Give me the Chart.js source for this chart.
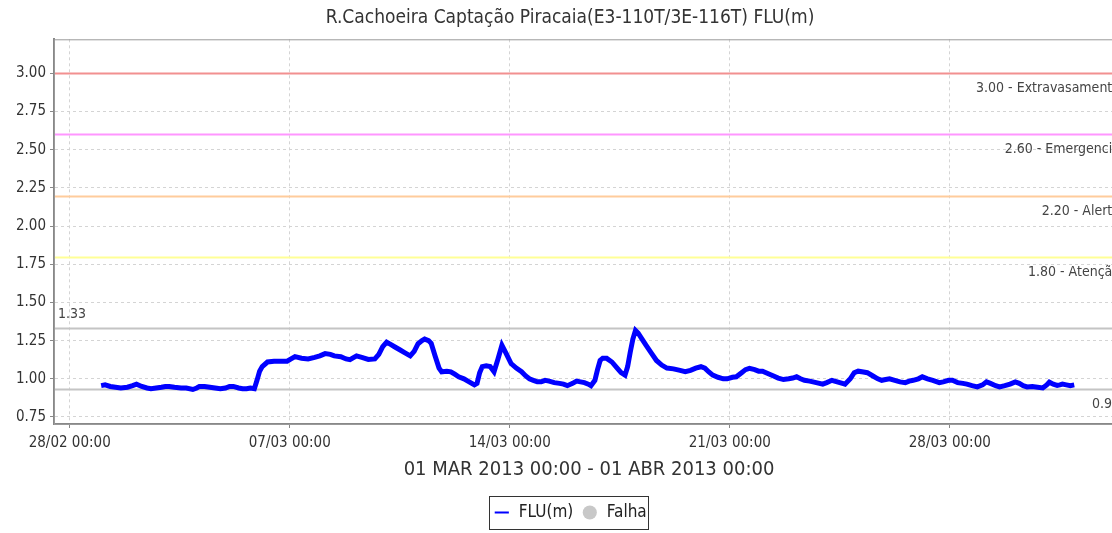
<!DOCTYPE html>
<html>
<head>
<meta charset="utf-8">
<script src="https://cdn.jsdelivr.net/npm/chart.js@4/dist/chart.umd.min.js"></script>
<style>
  html, body { margin: 0; padding: 0; background: #fff; overflow: hidden; }
  #wrap { width: 1140px; height: 533px; }
</style>
</head>
<body>
<div id="wrap"><canvas id="grafico" width="1140" height="533"></canvas></div>
<script>
// horas desde 28/02/2013 00:00
const horas = [24, 27, 31, 35, 39, 44, 48, 51, 55, 59, 62, 66, 70, 73, 76, 80, 85, 89, 94, 97,
  99, 103, 107, 111, 115, 119, 122, 125, 129, 132, 135, 138, 141, 143, 145, 147, 151, 156, 161, 166,
  169, 172, 177, 182, 187, 191, 195, 199, 202, 207, 211, 214, 217, 219, 223, 228, 233, 236, 239, 242,
  245, 248, 252, 256, 260, 263, 266, 269, 271, 274, 276, 279, 282, 284, 288, 291, 294, 297, 301, 305,
  309, 311, 313, 315, 318, 321, 324, 327, 330, 333, 337, 341, 345, 348, 351, 354, 357, 360, 363, 366,
  370, 374, 377, 380, 384, 387, 390, 393, 396, 398, 401, 403, 405, 407, 410, 414, 418, 421, 424, 426,
  428, 430, 432, 434, 437, 440, 444, 448, 452, 456, 461, 466, 470, 474, 478, 482, 485, 488, 491, 495,
  499, 502, 506, 509, 513, 516, 519, 523, 526, 529, 533, 537, 541, 545, 549, 552, 555, 558, 561, 565,
  570, 575, 578, 582, 586, 590, 592, 596, 599, 602, 606, 609, 613, 617, 620, 623, 626, 630, 634, 638,
  641, 644, 648, 651, 655, 659, 664, 667, 671, 674, 678, 682, 685, 689, 693, 697, 700, 703, 707, 710,
  714, 718, 722, 725, 728, 731, 735, 739, 743, 746, 748, 751, 754, 756, 758, 761, 764, 767];
const flu = [0.955, 0.96, 0.95, 0.945, 0.94, 0.945, 0.955, 0.965, 0.95, 0.94, 0.935, 0.94, 0.945, 0.95, 0.95, 0.945, 0.94, 0.94, 0.93, 0.94,
  0.95, 0.95, 0.945, 0.94, 0.935, 0.94, 0.95, 0.95, 0.94, 0.935, 0.935, 0.94, 0.935, 0.99, 1.05, 1.08, 1.11, 1.115, 1.115, 1.115,
  1.13, 1.145, 1.135, 1.13, 1.14, 1.15, 1.165, 1.16, 1.15, 1.145, 1.13, 1.125, 1.14, 1.15, 1.14, 1.127, 1.13, 1.16, 1.21, 1.24,
  1.225, 1.21, 1.19, 1.17, 1.15, 1.18, 1.23, 1.25, 1.26, 1.25, 1.232, 1.15, 1.07, 1.046, 1.05, 1.046, 1.03, 1.013, 1.0, 0.98,
  0.96, 0.97, 1.04, 1.08, 1.085, 1.08, 1.046, 1.13, 1.22, 1.17, 1.10, 1.07, 1.046, 1.02, 1.0, 0.99, 0.98, 0.98, 0.99, 0.985,
  0.975, 0.97, 0.965, 0.955, 0.97, 0.985, 0.98, 0.975, 0.965, 0.955, 0.99, 1.06, 1.12, 1.135, 1.134, 1.11, 1.07, 1.04, 1.024, 1.08,
  1.175, 1.26, 1.317, 1.30, 1.26, 1.22, 1.17, 1.12, 1.09, 1.07, 1.065, 1.055, 1.046, 1.055, 1.07, 1.079, 1.07, 1.045, 1.024, 1.01,
  1.0, 1.0, 1.01, 1.013, 1.04, 1.06, 1.068, 1.06, 1.05, 1.05, 1.035, 1.02, 1.005, 0.995, 1.0, 1.005, 1.013, 1.0, 0.99, 0.985,
  0.975, 0.965, 0.975, 0.99, 0.98, 0.97, 0.965, 1.0, 1.04, 1.05, 1.045, 1.04, 1.02, 1.0, 0.99, 0.995, 1.0, 0.99, 0.98, 0.975,
  0.985, 0.99, 1.0, 1.013, 1.0, 0.99, 0.975, 0.98, 0.99, 0.99, 0.975, 0.97, 0.965, 0.955, 0.947, 0.96, 0.98, 0.97, 0.955, 0.947,
  0.955, 0.965, 0.98, 0.97, 0.955, 0.947, 0.95, 0.945, 0.94, 0.96, 0.978, 0.965, 0.957, 0.96, 0.965, 0.96, 0.955, 0.96];

const yTicks = [0.75, 1.00, 1.25, 1.50, 1.75, 2.00, 2.25, 2.50, 2.75, 3.00];
const xTicks = [0, 168, 336, 504, 672];

// níveis de referência
const niveis = [3.00, 2.60, 2.20, 1.80];
const niveisTexto = ["3.00 - Extravasamento", "2.60 - Emergencia", "2.20 - Alerta", "1.80 - Atenção"];
const niveisCor = ["#f29090", "#ff96ff", "#ffcc9c", "#ffff96"];
const maxMin = [1.33, 0.93];

const fonte = "'DejaVu Sans Condensed', 'Liberation Sans Narrow', 'DejaVu Sans', sans-serif";
const inicio = new Date(2013, 1, 28, 0, 0);

function formataData(h) {
  const d = new Date(inicio.getTime() + h * 3600000);
  const p = (n) => String(n).padStart(2, "0");
  return p(d.getDate()) + "/" + p(d.getMonth() + 1) + " " + p(d.getHours()) + ":" + p(d.getMinutes());
}

const linhasRef = {
  id: "linhasRef",
  beforeDatasetsDraw(chart) {
    const ctx = chart.ctx;
    const area = chart.chartArea;
    const y = chart.scales.y;
    ctx.save();
    niveis.forEach((v, i) => {
      const py = Math.round(y.getPixelForValue(v)) + 0.5;
      ctx.strokeStyle = niveisCor[i];
      ctx.lineWidth = 2;
      ctx.beginPath();
      ctx.moveTo(area.left, py);
      ctx.lineTo(area.right, py);
      ctx.stroke();
      ctx.fillStyle = "#444";
      ctx.font = "14px " + fonte;
      ctx.textAlign = "right";
      ctx.textBaseline = "middle";
      ctx.fillText(niveisTexto[i], area.right - 4, py + 15);
    });
    maxMin.forEach((v, i) => {
      const py = Math.round(y.getPixelForValue(v)) + 0.5;
      ctx.strokeStyle = "#c4c4c4";
      ctx.lineWidth = 2;
      ctx.beginPath();
      ctx.moveTo(area.left, py);
      ctx.lineTo(area.right, py);
      ctx.stroke();
      ctx.fillStyle = "#444";
      ctx.font = "14px " + fonte;
      ctx.textBaseline = "middle";
      if (i === 0) {
        ctx.textAlign = "left";
        ctx.fillText(v.toFixed(2), area.left + 4, py - 14);
      } else {
        ctx.textAlign = "right";
        ctx.fillText(v.toFixed(2), area.right - 4, py + 15);
      }
    });
    ctx.restore();
  },
  afterDraw(chart) {
    const ctx = chart.ctx;
    const area = chart.chartArea;
    ctx.save();
    ctx.strokeStyle = "#999";
    ctx.lineWidth = 1;
    ctx.strokeRect(area.left + 0.5, area.top + 0.5, area.right - area.left, area.bottom - area.top);
    // caixa da legenda
    const boxes = chart.legend.legendHitBoxes;
    if (boxes && boxes.length) {
      let l = Infinity, r = -Infinity, t = Infinity, b = -Infinity;
      boxes.forEach((h) => {
        l = Math.min(l, h.left); r = Math.max(r, h.left + h.width);
        t = Math.min(t, h.top); b = Math.max(b, h.top + h.height);
      });
      ctx.strokeStyle = "#333";
      ctx.strokeRect(Math.round(l - 4) + 0.5, Math.round(t - 8) + 0.5, Math.round(r - l + 6), Math.round(b - t + 16));
    }
    ctx.restore();
  }
};

new Chart(document.getElementById("grafico"), {
  type: "line",
  data: {
    labels: horas,
    datasets: [
      {
        label: "FLU(m)",
        data: horas.map((h, i) => ({ x: h, y: flu[i] })),
        yAxisID: "y",
        borderColor: "#0000ff",
        backgroundColor: "#0000ff",
        borderWidth: 5,
        pointRadius: 0,
        tension: 0,
        pointStyle: "line"
      },
      {
        label: "Falha",
        data: [],
        yAxisID: "y",
        borderColor: "#c8c8c8",
        backgroundColor: "#c8c8c8",
        pointStyle: "circle",
        showLine: false
      }
    ]
  },
  options: {
    responsive: false,
    animation: false,
    layout: { padding: { left: 0, right: 0, top: 0, bottom: 2 } },
    plugins: {
      title: {
        display: true,
        text: "R.Cachoeira Captação Piracaia(E3-110T/3E-116T) FLU(m)",
        color: "#333",
        font: { family: fonte, size: 19, weight: "normal" },
        padding: { top: 7, bottom: 9.5 }
      },
      legend: {
        position: "bottom",
        labels: {
          color: "#222",
          font: { family: fonte, size: 17 },
          usePointStyle: true,
          boxHeight: 10,
          padding: 8,
          generateLabels(chart) {
            return [
              { text: "FLU(m)", pointStyle: "line", strokeStyle: "#0000ff", fillStyle: "#0000ff", lineWidth: 2, datasetIndex: 0, fontColor: "#222" },
              { text: "Falha", pointStyle: "circle", strokeStyle: "#c8c8c8", fillStyle: "#c8c8c8", lineWidth: 0, datasetIndex: 1, fontColor: "#222" }
            ];
          }
        }
      },
      tooltip: { enabled: false }
    },
    scales: {
      x: {
        type: "linear",
        min: -12,
        max: 805,
        afterBuildTicks(s) { s.ticks = xTicks.map((v) => ({ value: v })); },
        ticks: {
          color: "#333",
          font: { family: fonte, size: 15 },
          padding: 6,
          maxRotation: 0,
          callback: (v) => formataData(v)
        },
        grid: { color: "#d4d4d4", tickColor: "#888", tickLength: 4, lineWidth: 1 },
        border: { color: "#888", width: 2, dash: [3, 3] },
        title: {
          display: true,
          text: "01 MAR 2013 00:00 - 01 ABR 2013 00:00",
          color: "#333",
          font: { family: fonte, size: 20 },
          padding: { top: 0, bottom: 14 }
        }
      },
      y: {
        min: 0.704,
        max: 3.223,
        afterBuildTicks(s) { s.ticks = yTicks.map((v) => ({ value: v })); },
        afterFit(s) { s.width = 54; },
        ticks: {
          color: "#333",
          font: { family: fonte, size: 15 },
          padding: 4,
          callback: (v) => v.toFixed(2)
        },
        grid: { color: "#d4d4d4", tickColor: "#888", tickLength: 4, lineWidth: 1 },
        border: { color: "#888", width: 2, dash: [3, 3] }
      },
      // eixo vazio à direita, só reserva a margem
      margemDireita: {
        axis: "y",
        position: "right",
        min: 0,
        max: 1,
        afterFit(s) { s.width = 16; },
        ticks: { display: false },
        grid: { display: false, drawOnChartArea: false },
        border: { display: false }
      }
    }
  },
  plugins: [linhasRef]
});
</script>
</body>
</html>
